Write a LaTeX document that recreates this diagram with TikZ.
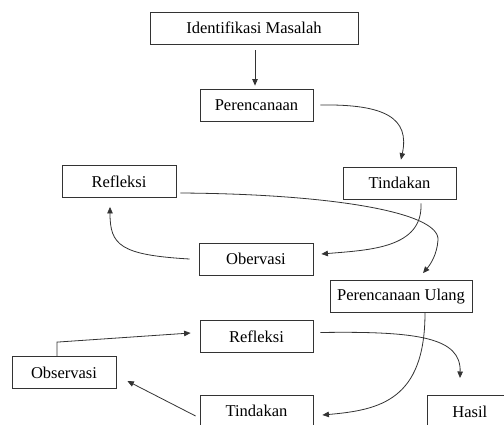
\documentclass[tikz,border=0pt]{standalone}
\usepackage{fontspec}
\setmainfont{Liberation Serif}
\usetikzlibrary{arrows.meta}
\tikzset{
  kotak/.style={draw=black!80,line width=0.8pt,minimum height=32pt,inner sep=0pt,font=\fontsize{16.5}{19}\selectfont},
  panah/.style={draw=black!80,line width=0.8pt,-{Triangle[length=6.5pt,width=5.5pt]}}
}
\begin{document}
\begin{tikzpicture}[x=1pt,y=-1pt]
\clip (0,0) rectangle (504,424);
\node[kotak,minimum width=208pt] (idm) at (254,28) {Identifikasi Masalah};
\node[kotak,minimum width=113pt] (per) at (256.5,105) {Perencanaan};
\node[kotak,minimum width=114pt] (ref1) at (119,181.5) {Refleksi};
\node[kotak,minimum width=113pt] (tin1) at (399.5,183) {Tindakan};
\node[kotak,minimum width=114pt] (obs1) at (256,259) {Obervasi};
\node[kotak,minimum width=142pt] (pu) at (401,296.5) {Perencanaan Ulang};
\node[kotak,minimum width=113pt] (ref2) at (256.5,336.5) {Refleksi};
\node[kotak,minimum width=104pt] (obs2) at (64,372.5) {Observasi};
\node[kotak,minimum width=113pt] (tin2) at (256.5,411) {Tindakan};
\node[kotak,minimum width=85pt,anchor=north west] (has) at (427,395) {Hasil};

\draw[panah] ([xshift=1pt,yshift=-6pt]idm.south) -- ([xshift=-1.5pt,yshift=3pt]per.north);
\draw[panah] ([xshift=7pt]per.east) .. controls (385,104) and (410,118) .. ([xshift=1.5pt,yshift=7pt]tin1.north);
\draw[panah] ([xshift=21.5pt,yshift=-4pt]tin1.south) .. controls (423,248) and (370,250) .. ([xshift=8pt,yshift=5pt]obs1.east);
\draw[panah] ([xshift=-9pt]obs1.west) .. controls (120,255) and (110,245) .. ([xshift=-9pt,yshift=-9pt]ref1.south);
\draw[panah] ([xshift=4pt,yshift=-11.5pt]ref1.east) .. controls (330,194) and (440,212) .. (438,240) .. controls (437,255) and (430,265) .. ([xshift=22pt,yshift=7pt]pu.north);
\draw[panah] ([xshift=24pt]pu.south) .. controls (425,400) and (380,410) .. ([xshift=9pt,yshift=-4pt]tin2.east);
\draw[panah] ([xshift=-4pt,yshift=-5pt]tin2.west) -- ([xshift=11pt,yshift=-8.5pt]obs2.east);
\draw[panah] ([xshift=-7pt]obs2.north) -- ++(0,-14) -- ([xshift=-9pt,yshift=3.5pt]ref2.west);
\draw[panah] ([xshift=7pt,yshift=4pt]ref2.east) .. controls (420,331) and (461,338) .. ([xshift=33pt,yshift=17pt]has.north west);
\end{tikzpicture}
\end{document}
